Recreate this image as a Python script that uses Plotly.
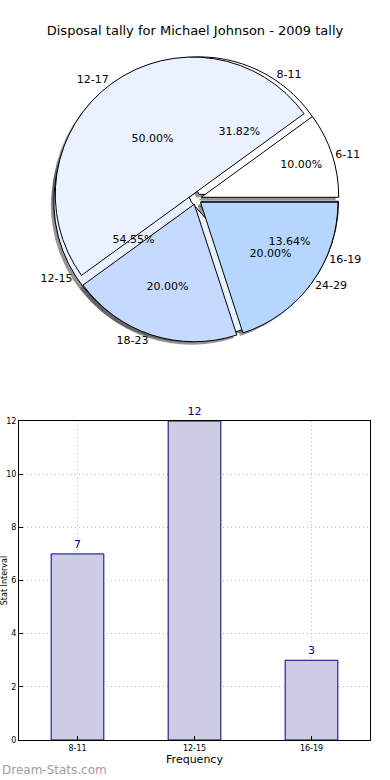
import plotly.graph_objects as go

title = "Disposal tally for Michael Johnson - 2009 tally"

# Pie A (visible top pie)
pie_a_labels = ["6-11", "12-17", "18-23", "24-29"]
pie_a_values = [10.0, 50.0, 20.0, 20.0]
pie_a_colors = ["#ffffff", "#ebf2ff", "#c6d9ff", "#b5d6ff"]

# Pie B (2009 tally, underneath)
pie_b_labels = ["8-11", "12-15", "16-19"]
pie_b_values = [7, 12, 3]
pie_b_colors = ["#ffffff", "#ebf2ff", "#b5d6ff"]

# Bar chart
bar_categories = ["8-11", "12-15", "16-19"]
bar_values = [7, 12, 3]

FONT = "DejaVu Sans"
W, H = 390, 780


def px(x):
    return x / W


def py(y):
    return 1 - y / H


cx, cy, half = 196, 199, 143
dom_x = [px(cx - half), px(cx + half)]
dom_y = [py(cy + half), py(cy - half)]
sh = 3
dom_xs = [px(cx - half - sh), px(cx + half - sh)]
dom_ys = [py(cy + half + sh), py(cy - half + sh)]

PULL = 0.04


def rot(vals):
    # first slice starts at 3 o'clock going counterclockwise
    return 90 - 360.0 * vals[0] / sum(vals)


def common(vals):
    return dict(sort=False, direction="counterclockwise", rotation=rot(vals),
                hoverinfo="skip", showlegend=False, pull=[PULL] * len(vals))


fig = go.Figure()

# shadows
for vals in (pie_b_values, pie_a_values):
    fig.add_trace(go.Pie(values=vals, domain=dict(x=dom_xs, y=dom_ys), textinfo="none",
                         marker=dict(colors=["rgba(60,60,60,0.55)"] * len(vals),
                                     line=dict(width=0)), **common(vals)))

# pie B then pie A (filled)
fig.add_trace(go.Pie(labels=pie_b_labels, values=pie_b_values,
                     domain=dict(x=dom_x, y=dom_y), textinfo="none",
                     marker=dict(colors=pie_b_colors, line=dict(color="black", width=1)),
                     **common(pie_b_values)))
fig.add_trace(go.Pie(labels=pie_a_labels, values=pie_a_values,
                     domain=dict(x=dom_x, y=dom_y), textinfo="none",
                     marker=dict(colors=pie_a_colors, line=dict(color="black", width=1)),
                     **common(pie_a_values)))

# text layers (transparent)
for labels, vals in ((pie_b_labels, pie_b_values), (pie_a_labels, pie_a_values)):
    n = len(vals)
    clear = dict(colors=["rgba(0,0,0,0)"] * n, line=dict(width=0))
    fig.add_trace(go.Pie(labels=labels, values=vals, domain=dict(x=dom_x, y=dom_y),
                         textinfo="percent", texttemplate="%{percent:.2%}",
                         textposition="inside", insidetextorientation="horizontal",
                         insidetextfont=dict(family=FONT, size=11, color="black"),
                         marker=clear, **common(vals)))
    fig.add_trace(go.Pie(labels=labels, values=vals, domain=dict(x=dom_x, y=dom_y),
                         textinfo="label", textposition="outside",
                         outsidetextfont=dict(family=FONT, size=11, color="black"),
                         marker=clear, automargin=False, **common(vals)))

# bar chart
fig.add_trace(go.Bar(x=bar_categories, y=bar_values, width=0.45,
                     marker=dict(color="#ccccE4", line=dict(color="#000080", width=1)),
                     text=bar_values, textposition="outside", cliponaxis=False,
                     textfont=dict(family=FONT, size=11, color="#000080"),
                     hoverinfo="skip", showlegend=False))

grid = dict(showgrid=True, gridcolor="#b8b8b8", griddash="1px,3px", gridwidth=1)

fig.update_layout(
    width=W, height=H,
    margin=dict(l=0, r=0, t=0, b=0),
    paper_bgcolor="white", plot_bgcolor="white",
    font=dict(family=FONT, color="black"),
    title=dict(text=title, x=px(195), xanchor="center", y=py(30), yanchor="middle",
               font=dict(family=FONT, size=13, color="black")),
    uniformtext=dict(minsize=11, mode="show"),
    xaxis=dict(domain=[px(19), px(370)], range=[-0.5, 2.5], showline=True, mirror=True,
               linecolor="black", linewidth=1, ticks="inside", ticklen=4, tickcolor="black",
               tickfont=dict(family=FONT, size=8), zeroline=False,
               title=dict(text="Frequency", font=dict(family=FONT, size=11), standoff=0),
               automargin=False, **grid),
    yaxis=dict(domain=[py(740), py(421)], range=[0, 12], dtick=2,
               showline=True, mirror=True, linecolor="black", linewidth=1,
               ticks="inside", ticklen=4, tickcolor="black", tickfont=dict(family=FONT, size=8),
               zeroline=False, automargin=False,
               title=dict(text="Stat Interval", font=dict(family=FONT, size=8), standoff=1),
               **grid),
    annotations=[dict(text="Dream-Stats.com", x=px(0), y=py(770), xref="paper", yref="paper",
                      xanchor="left", yanchor="middle", showarrow=False,
                      font=dict(family="DejaVu Sans", size=12, color="#a0a0a0"))],
)

fig.write_html("out.html", config={"displayModeBar": False},
               post_script="document.body.style.margin='0px';"
                           "document.body.style.overflow='hidden';")
